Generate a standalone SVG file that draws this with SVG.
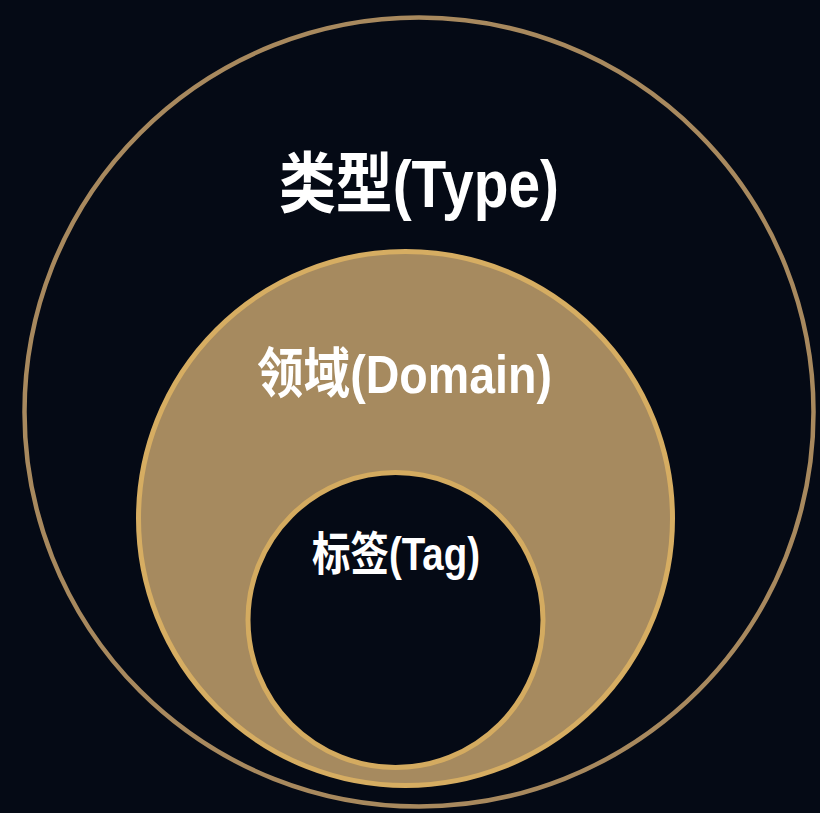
<svg xmlns="http://www.w3.org/2000/svg" width="820" height="813" viewBox="0 0 820 813">
<style>
.lbl{font-family:"Liberation Sans","Noto Sans CJK SC",sans-serif;font-weight:bold;fill:#ffffff;text-anchor:middle}
</style>
<rect width="820" height="813" fill="#050a15"/>
<g id="type">
<circle cx="419" cy="412" r="394.5" fill="#050a15" stroke="#a8895e" stroke-width="4.5"/>
<text class="lbl" x="419" y="207" font-size="66" textLength="280" lengthAdjust="spacingAndGlyphs">类型(Type)</text>
</g>
<g id="domain">
<circle cx="405.5" cy="518.5" r="267" fill="#a68a5f" stroke="#d6ad62" stroke-width="5"/>
<text class="lbl" x="404.5" y="393" font-size="54" textLength="295" lengthAdjust="spacingAndGlyphs">领域(Domain)</text>
</g>
<g id="tag">
<circle cx="395.5" cy="620" r="147.5" fill="#050a15" stroke="#d4ab60" stroke-width="5"/>
<text class="lbl" x="396" y="570" font-size="46" textLength="168" lengthAdjust="spacingAndGlyphs">标签(Tag)</text>
</g>
</svg>
